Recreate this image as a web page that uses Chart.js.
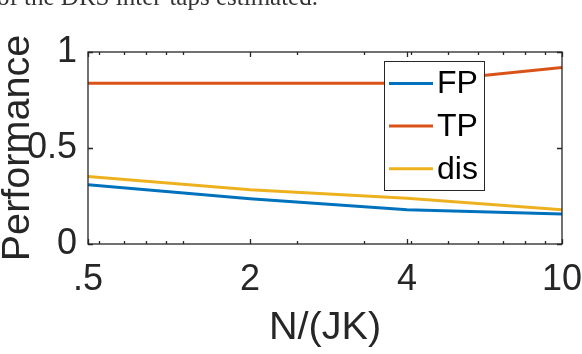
<!DOCTYPE html>
<html>
<head>
<meta charset="utf-8">
<script src="https://cdn.jsdelivr.net/npm/chart.js@4.4.1/dist/chart.umd.min.js"></script>
<style>
  html, body { margin: 0; padding: 0; background: #fff; }
  #wrap { position: relative; width: 582px; height: 354px; overflow: hidden; }
  #perfChart { position: absolute; left: 0; top: 0; }
  #caption { position: absolute; left: -3px; top: -16px; font: 25px/26px "Liberation Serif", serif; color: #333; white-space: nowrap; }
</style>
</head>
<body>
<div id="wrap">
  <canvas id="perfChart" width="582" height="354"></canvas>
  <div id="caption">of the DRS inter-taps estimated.</div>
</div>
<script>
// valeurs (axe x logarithmique, étiquettes imposées)
const xValues = [0.5615, 1.503, 3.9, 10];
const xTickLabels = ['.5', '2', '4', '10'];
const xMinorTicks = [0.6, 0.7, 0.8, 0.9, 1, 2, 3, 4, 5, 6, 7, 8, 9];
const yTicks = [0, 0.5, 1];
const yTickLabels = ['0', '0.5', '1'];

const seriesNames = ['FP', 'TP', 'dis'];
const fpValues = [0.308, 0.236, 0.179, 0.156];
const tpValues = [0.837, 0.837, 0.837, 0.919];
const disValues = [0.352, 0.282, 0.238, 0.178];

const colors = ['#0072BD', '#D95319', '#EDB120'];
const axisColor = '#262626';

function points(vals) {
    return vals.map((v, i) => ({ x: xValues[i], y: v }));
}

// boîte des axes + petites graduations vers l'intérieur (style MATLAB) + légende
const matlabAxes = {
    id: 'matlabAxes',
    afterDraw(chart) {
        const { ctx, chartArea: a, scales: { x, y } } = chart;
        ctx.save();
        ctx.strokeStyle = axisColor;
        ctx.lineWidth = 1.3;
        ctx.beginPath();
        const xTick = (v, len) => {
            const px = Math.round(x.getPixelForValue(v)) + 0.5;
            ctx.moveTo(px, a.bottom); ctx.lineTo(px, a.bottom - len);
            ctx.moveTo(px, a.top); ctx.lineTo(px, a.top + len);
        };
        xMinorTicks.forEach(v => xTick(v, 3));
        xValues.forEach(v => xTick(v, 5));
        yTicks.forEach(v => {
            const py = Math.round(y.getPixelForValue(v)) + 0.5;
            ctx.moveTo(a.left, py); ctx.lineTo(a.left + 5, py);
            ctx.moveTo(a.right, py); ctx.lineTo(a.right - 5, py);
        });
        ctx.stroke();
        ctx.strokeRect(a.left, a.top, a.right - a.left, a.bottom - a.top);

        // légende
        const box = { l: 384.5, t: 61.5, w: 100, h: 129 };
        ctx.fillStyle = '#fff';
        ctx.fillRect(box.l, box.t, box.w, box.h);
        ctx.lineWidth = 1;
        ctx.strokeStyle = axisColor;
        ctx.strokeRect(box.l, box.t, box.w, box.h);
        ctx.font = '32px "Liberation Sans", Arial, sans-serif';
        ctx.textBaseline = 'middle';
        ctx.textAlign = 'left';
        chart.data.datasets.forEach((ds, i) => {
            const cy = 83.5 + i * 42.6;
            ctx.strokeStyle = ds.borderColor;
            ctx.lineWidth = 3;
            ctx.beginPath();
            ctx.moveTo(389, cy); ctx.lineTo(433, cy);
            ctx.stroke();
            ctx.fillStyle = '#000';
            ctx.fillText(ds.label, 437, cy + 1);
        });
        ctx.restore();
    }
};

Chart.defaults.font.family = '"Liberation Sans", Arial, sans-serif';
Chart.defaults.color = axisColor;

new Chart(document.getElementById('perfChart'), {
    type: 'line',
    data: {
        datasets: [fpValues, tpValues, disValues].map((vals, i) => ({
            label: seriesNames[i],
            data: points(vals),
            borderColor: colors[i],
            backgroundColor: colors[i],
            borderWidth: 3,
            pointRadius: 0,
            tension: 0
        }))
    },
    options: {
        responsive: false,
        animation: false,
        layout: { padding: { top: 52, right: 0, left: 0, bottom: 0 } },
        plugins: { legend: { display: false }, tooltip: { enabled: false } },
        scales: {
            x: {
                type: 'logarithmic',
                min: xValues[0],
                max: xValues[xValues.length - 1],
                afterBuildTicks: s => { s.ticks = xValues.map(v => ({ value: v })); },
                afterFit: s => { s.height = 110; s.paddingLeft = 0; s.paddingRight = 20; },
                grid: { display: false, drawTicks: false },
                border: { display: false },
                ticks: {
                    autoSkip: false, maxRotation: 0, padding: 18,
                    font: { size: 36, lineHeight: 1 },
                    callback: (v, i) => xTickLabels[i]
                },
                title: {
                    display: true, text: 'N/(JK)',
                    font: { size: 39.6, lineHeight: 1.2 },
                    padding: { top: 0, bottom: 2 }
                }
            },
            y: {
                min: 0, max: 1,
                afterBuildTicks: s => { s.ticks = yTicks.map(v => ({ value: v })); },
                afterFit: s => { s.width = 88; },
                grid: { display: false, drawTicks: false },
                border: { display: false },
                ticks: {
                    padding: 11,
                    font: { size: 36, lineHeight: 1 },
                    callback: (v, i) => yTickLabels[i]
                },
                title: {
                    display: true, text: 'Performance',
                    font: { size: 39.6, lineHeight: 0.9 },
                    padding: 0
                }
            }
        }
    },
    plugins: [matlabAxes]
});
</script>
</body>
</html>
